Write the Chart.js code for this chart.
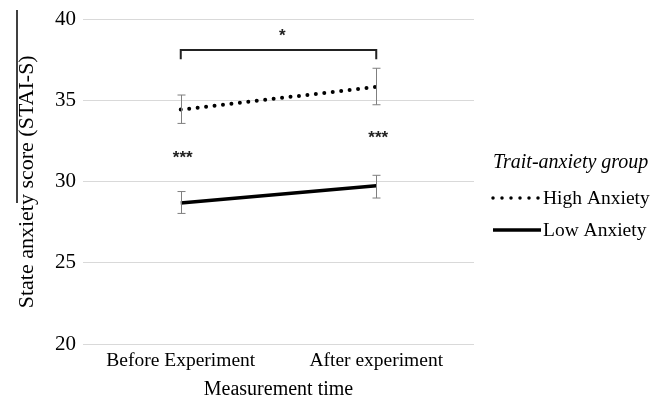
<!DOCTYPE html>
<html>
<head>
<meta charset="utf-8">
<script src="https://cdn.jsdelivr.net/npm/chart.js@4.4.0/dist/chart.umd.min.js"></script>
<style>
  html, body { margin: 0; padding: 0; background: #fff; }
  #wrap { width: 666px; height: 400px; position: relative; }
</style>
</head>
<body>
<div id="wrap"><canvas id="chart" width="666" height="400"></canvas></div>
<script>
// data
const categories = ['Before Experiment', 'After experiment'];
const highMeans = [34.45, 35.85];
const highUpper = [35.35, 37.0];
const highLower = [33.6, 34.75];
const lowMeans = [28.7, 29.75];
const lowUpper = [29.4, 30.4];
const lowLower = [28.05, 29.0];
const yTicks = [20, 25, 30, 35, 40];

const serif = "'Liberation Serif', 'Times New Roman', serif";

// error bars, significance marks, legend
const extras = {
    id: 'extras',
    afterDatasetsDraw(chart) {
        const ctx = chart.ctx;
        const x = chart.scales.x, y = chart.scales.y;

        // error bars
        ctx.save();
        ctx.strokeStyle = '#7f7f7f';
        ctx.lineWidth = 1;
        const bars = (lo, hi) => {
            lo.forEach((v, i) => {
                const px = Math.round(x.getPixelForValue(i)) + 0.5;
                const y1 = y.getPixelForValue(v), y2 = y.getPixelForValue(hi[i]);
                ctx.beginPath();
                ctx.moveTo(px, y1); ctx.lineTo(px, y2);
                ctx.moveTo(px - 4, y1); ctx.lineTo(px + 4, y1);
                ctx.moveTo(px - 4, y2); ctx.lineTo(px + 4, y2);
                ctx.stroke();
            });
        };
        bars(highLower, highUpper);
        bars(lowLower, lowUpper);

        // bracket between time points
        const bx1 = x.getPixelForValue(0), bx2 = x.getPixelForValue(1);
        ctx.strokeStyle = '#222';
        ctx.lineWidth = 2;
        ctx.beginPath();
        ctx.moveTo(bx1, y.getPixelForValue(37.55));
        ctx.lineTo(bx1, y.getPixelForValue(38.12));
        ctx.lineTo(bx2, y.getPixelForValue(38.12));
        ctx.lineTo(bx2, y.getPixelForValue(37.55));
        ctx.stroke();

        // stars
        ctx.fillStyle = '#222';
        ctx.font = "bold 17px 'Liberation Sans', Arial, sans-serif";
        ctx.textAlign = 'center';
        ctx.textBaseline = 'middle';
        ctx.fillText('*', x.getPixelForValue(0.52), y.getPixelForValue(39.2) + 4);
        ctx.fillText('***', x.getPixelForValue(0) + 2, y.getPixelForValue(31.7) + 4);
        ctx.fillText('***', x.getPixelForValue(1) + 2, y.getPixelForValue(32.95) + 4);

        // legend
        ctx.fillStyle = '#000';
        ctx.textAlign = 'left';
        ctx.textBaseline = 'alphabetic';
        ctx.font = 'italic 20px ' + serif;
        ctx.fillText('Trait-anxiety group', 493, 168);
        ctx.font = '19.5px ' + serif;
        ctx.fillText('High Anxiety', 543, 204);
        ctx.fillText('Low Anxiety', 543, 236);
        ctx.strokeStyle = '#000';
        ctx.lineCap = 'round';
        ctx.lineWidth = 3.5;
        ctx.setLineDash([0, 9]);
        ctx.beginPath(); ctx.moveTo(493, 198); ctx.lineTo(539, 198); ctx.stroke();
        ctx.setLineDash([]);
        ctx.lineCap = 'butt';
        ctx.lineWidth = 3.5;
        ctx.beginPath(); ctx.moveTo(493, 230); ctx.lineTo(541, 230); ctx.stroke();

        // stray frame edge at the left of the figure
        ctx.lineWidth = 1.5;
        ctx.beginPath(); ctx.moveTo(17, 10); ctx.lineTo(17, 203); ctx.stroke();
        ctx.restore();
    }
};

new Chart(document.getElementById('chart'), {
    type: 'line',
    data: {
        labels: categories,
        datasets: [
            {
                label: 'High Anxiety',
                data: highMeans,
                borderColor: '#000',
                borderWidth: 4,
                borderDash: [0, 8.5],
                borderCapStyle: 'round',
                pointRadius: 0,
                fill: false
            },
            {
                label: 'Low Anxiety',
                data: lowMeans,
                borderColor: '#000',
                borderWidth: 3.5,
                pointRadius: 0,
                fill: false
            }
        ]
    },
    options: {
        responsive: false,
        animation: false,
        devicePixelRatio: 1,
        layout: { padding: { top: 19, right: 192, left: 0, bottom: 0 } },
        scales: {
            x: {
                type: 'category',
                offset: true,
                grid: { display: false, drawTicks: false },
                border: { display: false },
                ticks: { color: '#000', font: { family: serif, size: 19.5 }, padding: 5, maxRotation: 0 },
                title: { display: true, text: 'Measurement time', color: '#000', font: { family: serif, size: 20, lineHeight: 1 }, padding: { top: 0, bottom: 0 } },
                afterFit: (s) => { s.height = 56; }
            },
            y: {
                min: 20,
                max: 40,
                afterBuildTicks: (s) => { s.ticks = yTicks.map(v => ({ value: v })); },
                grid: { color: '#d9d9d9', drawTicks: false },
                border: { display: false },
                ticks: { color: '#000', font: { family: serif, size: 21 }, padding: 7 },
                title: { display: true, text: 'State anxiety score (STAI-S)', color: '#000', font: { family: serif, size: 22 }, padding: { top: 14, bottom: 0 } },
                afterFit: (s) => { s.width = 83; }
            }
        },
        plugins: {
            legend: { display: false },
            tooltip: { enabled: false }
        }
    },
    plugins: [extras]
});
</script>
</body>
</html>
